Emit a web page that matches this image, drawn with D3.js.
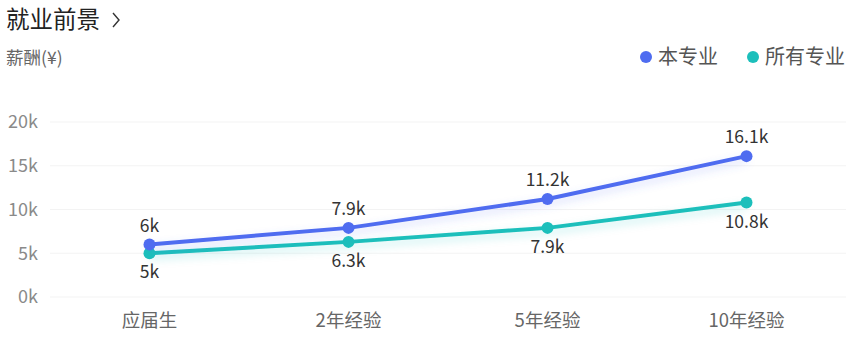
<!DOCTYPE html>
<html>
<head>
<meta charset="utf-8">
<script src="https://cdn.jsdelivr.net/npm/d3@7"></script>
<style>
  body { margin: 0; background: #fff; }
  text { font-family: "Microsoft YaHei", "Noto Sans CJK SC", "Noto Sans", sans-serif; }
</style>
</head>
<body>
<div id="chart"></div>
<script>
// chart data
const categories = ["应届生", "2年经验", "5年经验", "10年经验"];
const majorSalary = [6, 7.9, 11.2, 16.1];   // 本专业, in k
const allSalary = [5, 6.3, 7.9, 10.8];      // 所有专业, in k
const yTicks = [0, 5, 10, 15, 20];
const seriesNames = ["本专业", "所有专业"];
const seriesColors = ["#4f6cf0", "#1cbfbb"];

const width = 854, height = 344;

var svg = d3.select("#chart").append("svg")
    .attr("width", width)
    .attr("height", height);

var defs = svg.append("defs");
seriesColors.forEach((c, i) => {
    var f = defs.append("filter").attr("id", "glow" + i)
        .attr("x", "-10%").attr("y", "-50%").attr("width", "120%").attr("height", "250%");
    f.append("feDropShadow").attr("dx", 0).attr("dy", 4).attr("stdDeviation", 4)
        .attr("flood-color", c).attr("flood-opacity", 0.25);
});

// header
svg.append("text").attr("x", 6).attr("y", 28)
    .attr("font-size", 23.5).attr("fill", "#222").text("就业前景");
svg.append("path")
    .attr("d", "M113,13 L119,20 L113,27")
    .attr("fill", "none").attr("stroke", "#333").attr("stroke-width", 1.4);
svg.append("text").attr("x", 6).attr("y", 64)
    .attr("font-size", 17.5).attr("fill", "#666").text("薪酬(¥)");

// legend
var legendX = [646, 753];
seriesNames.forEach((name, i) => {
    svg.append("circle").attr("cx", legendX[i]).attr("cy", 57).attr("r", 6)
        .attr("fill", seriesColors[i]);
    svg.append("text").attr("x", legendX[i] + 12).attr("y", 64)
        .attr("font-size", 20).attr("fill", "#555").text(name);
});

// scales
var x = d3.scaleBand().domain(categories).range([50, 846]);
var y = d3.scaleLinear().domain([0, 20]).range([297, 122]);

// grid lines
svg.append("g").selectAll("line")
    .data(yTicks)
    .enter().append("line")
    .attr("x1", 50).attr("x2", 846)
    .attr("y1", d => y(d)).attr("y2", d => y(d))
    .attr("stroke", "#f3f3f3").attr("stroke-width", 1);

// y axis labels
var yAxis = d3.axisLeft(y).tickValues(yTicks).tickFormat(d => d + "k").tickSize(0).tickPadding(0);
var yg = svg.append("g").attr("transform", "translate(38,0)").call(yAxis);
yg.select(".domain").remove();
yg.selectAll("text").attr("font-size", 18).attr("fill", "#8a8a8a")
    .attr("font-family", "\"Noto Sans\", \"Noto Sans CJK SC\", sans-serif");

// x axis labels
var xAxis = d3.axisBottom(x).tickSize(0).tickPadding(0);
var xg = svg.append("g").attr("transform", "translate(0,314)").call(xAxis);
xg.select(".domain").remove();
xg.selectAll("text").attr("font-size", 18.5).attr("fill", "#666")
    .attr("font-family", "\"Noto Sans CJK SC\", sans-serif");

var cx = d => x(d) + x.bandwidth() / 2;

var line = d3.line()
    .x((d, i) => cx(categories[i]))
    .y(d => y(d));

[allSalary, majorSalary].forEach((vals, k) => {
    var idx = k === 0 ? 1 : 0;
    var color = seriesColors[idx];
    var g = svg.append("g");
    g.append("path")
        .datum(vals)
        .attr("d", line)
        .attr("fill", "none")
        .attr("stroke", color)
        .attr("stroke-width", 4)
        .attr("stroke-linejoin", "round")
        .attr("filter", "url(#glow" + idx + ")");
    g.selectAll("circle")
        .data(vals)
        .enter().append("circle")
        .attr("cx", (d, i) => cx(categories[i]))
        .attr("cy", d => y(d))
        .attr("r", 6)
        .attr("fill", color);
    g.selectAll("text")
        .data(vals)
        .enter().append("text")
        .attr("x", (d, i) => cx(categories[i]))
        .attr("y", d => idx === 0 ? y(d) - 13 : y(d) + 25)
        .attr("text-anchor", "middle")
        .attr("font-size", 17.5)
        .attr("fill", "#333")
        .attr("font-family", "\"Noto Sans\", sans-serif")
        .text(d => d + "k");
});
</script>
</body>
</html>
